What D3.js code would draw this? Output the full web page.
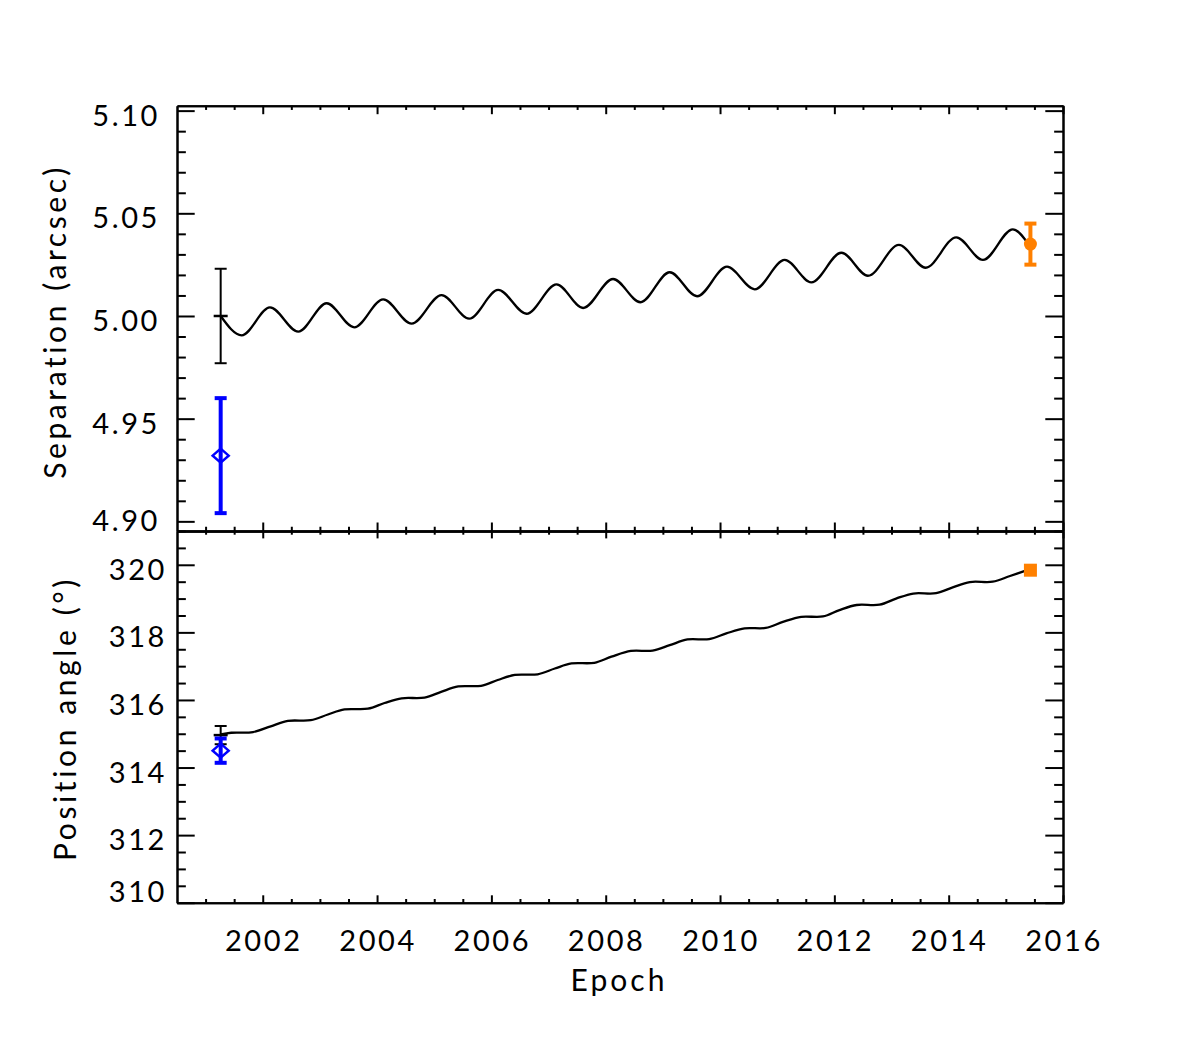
<!DOCTYPE html>
<html>
<head>
<meta charset="utf-8">
<script src="https://cdn.jsdelivr.net/npm/d3@7"></script>
<style>
  body { margin: 0; background: #fff; }
  text { font-family: Lato, "DejaVu Sans", sans-serif; fill: #000; }
</style>
</head>
<body>
<svg id="chart" width="1180" height="1063"></svg>
<script>
(function () {
    "use strict";

    // model curve, separation (arcsec) vs epoch
    var sepEpoch = [2001.264, 2001.631, 2002.126, 2002.621, 2003.118, 2003.600, 2004.107, 2004.604,
        2005.128, 2005.611, 2006.118, 2006.615, 2007.139, 2007.604, 2008.129, 2008.608,
        2009.120, 2009.598, 2010.122, 2010.607, 2011.131, 2011.598, 2012.123, 2012.588,
        2013.130, 2013.597, 2014.133, 2014.599, 2015.123, 2015.386];
    var sepValue = [5.0000, 4.9906, 5.0042, 4.9924, 5.0062, 4.9945, 5.0081, 4.9963,
        5.0102, 4.9987, 5.0127, 5.0011, 5.0154, 5.0039, 5.0180, 5.0067,
        5.0213, 5.0096, 5.0240, 5.0130, 5.0273, 5.0164, 5.0308, 5.0196,
        5.0346, 5.0235, 5.0383, 5.0273, 5.0422, 5.0354];

    // model curve, position angle (deg) vs epoch
    var paEpoch = [2001.264, 2001.45, 2001.83, 2002.14, 2002.44, 2002.84, 2003.14, 2003.43, 2003.84,
        2004.13, 2004.43, 2004.83, 2005.12, 2005.42, 2005.82, 2006.11, 2006.41, 2006.81,
        2007.11, 2007.40, 2007.80, 2008.10, 2008.44, 2008.82, 2009.12, 2009.43, 2009.81,
        2010.11, 2010.43, 2010.80, 2011.10, 2011.42, 2011.80, 2012.09, 2012.39, 2012.79,
        2013.08, 2013.38, 2013.78, 2014.07, 2014.37, 2014.77, 2015.06, 2015.386];
    var paValue = [314.98, 315.03, 315.05, 315.22, 315.38, 315.40, 315.57, 315.72, 315.74,
        315.91, 316.05, 316.07, 316.24, 316.40, 316.42, 316.59, 316.74, 316.76,
        316.93, 317.08, 317.10, 317.28, 317.45, 317.46, 317.62, 317.79, 317.80,
        317.97, 318.12, 318.13, 318.31, 318.46, 318.47, 318.66, 318.81, 318.82,
        319.00, 319.15, 319.16, 319.33, 319.49, 319.50, 319.66, 319.85];

    // measurements: black, blue, orange
    var obsEpoch = [2001.264, 2001.264, 2015.43];
    var obsSep = [5.000, 4.932, 5.035];
    var obsSepErr = [0.023, 0.028, 0.010];
    var obsPA = [314.96, 314.50, 319.84];
    var obsPAErr = [0.27, 0.36, 0];

    // tick labels
    var xTickLabels = ["2002", "2004", "2006", "2008", "2010", "2012", "2014", "2016"];
    var sepTickLabels = ["4.90", "4.95", "5.00", "5.05", "5.10"];
    var paTickLabels = ["310", "312", "314", "316", "318", "320"];

    // styles per measurement (kept apart from the values)
    var obsStyle = [
        { color: "#000", width: 2, marker: "cross" },
        { color: "#0000ff", width: 4, marker: "diamond" },
        { color: "#ff8000", width: 4, marker: "dot" }
    ];

    var L = 177, R = 1063;
    var topY0 = 105.7, midY = 531, botY1 = 902.7;

    var svg = d3.select("#chart");
    svg.append("rect").attr("width", 1180).attr("height", 1063).attr("fill", "#fff");

    var x = d3.scaleLinear().domain([2000.5, 2016]).range([L, R]);
    var ySep = d3.scaleLinear().domain([4.8953, 5.1024]).range([midY, topY0]);
    var yPA = d3.scaleLinear().domain([310, 321]).range([botY1, midY]);

    var xMajor = xTickLabels.map(Number);
    var xMinor = d3.range(2001, 2016, 0.5).filter(function (d) { return d % 2 !== 0; });

    function axisGroup(axis, tx, ty) {
        var g = svg.append("g").attr("transform", "translate(" + tx + "," + ty + ")").call(axis);
        g.selectAll("line").attr("stroke", "#000").attr("stroke-width", 2);
        g.select(".domain").attr("stroke", "#000").attr("stroke-width", 2);
        return g;
    }

    function drawFrame(y, yMajor, yMinor, xLen) {
        var yr = y.range();
        var yLen = 17.7;
        // left / right axes
        axisGroup(d3.axisRight(y).tickValues(yMajor).tickSize(yLen).tickSizeOuter(0).tickFormat(""), L, 0);
        axisGroup(d3.axisRight(y).tickValues(yMinor).tickSize(yLen / 2).tickSizeOuter(0).tickFormat(""), L, 0);
        axisGroup(d3.axisLeft(y).tickValues(yMajor).tickSize(yLen).tickSizeOuter(0).tickFormat(""), R, 0);
        axisGroup(d3.axisLeft(y).tickValues(yMinor).tickSize(yLen / 2).tickSizeOuter(0).tickFormat(""), R, 0);
        // bottom / top axes
        axisGroup(d3.axisTop(x).tickValues(xMajor).tickSize(xLen).tickSizeOuter(0).tickFormat(""), 0, yr[0]);
        axisGroup(d3.axisTop(x).tickValues(xMinor).tickSize(xLen / 2).tickSizeOuter(0).tickFormat(""), 0, yr[0]);
        axisGroup(d3.axisBottom(x).tickValues(xMajor).tickSize(xLen).tickSizeOuter(0).tickFormat(""), 0, yr[1]);
        axisGroup(d3.axisBottom(x).tickValues(xMinor).tickSize(xLen / 2).tickSizeOuter(0).tickFormat(""), 0, yr[1]);
    }

    var sepMajor = sepTickLabels.map(Number);
    var sepMinor = d3.range(4.90, 5.1001, 0.01).filter(function (d) {
        return sepMajor.every(function (m) { return Math.abs(m - d) > 1e-6; });
    });
    var paMajor = paTickLabels.map(Number);
    var paMinor = d3.range(310, 321.01, 0.5).filter(function (d) { return d % 2 !== 0; });

    drawFrame(ySep, sepMajor, sepMinor, 8.5);
    drawFrame(yPA, paMajor, paMinor, 7.4);

    // y tick labels: dropped a bit below tick, kept inside the panel
    function yLabels(y, labels, xEnd) {
        var bottom = y.range()[0];
        svg.append("g").selectAll("text").data(labels).enter().append("text")
            .attr("x", xEnd)
            .attr("y", function (d) { return Math.min(y(+d) + 15, bottom - 0.5); })
            .attr("text-anchor", "end")
            .attr("font-size", 29)
            .attr("letter-spacing", 2.6)
            .text(function (d) { return d; });
    }
    yLabels(ySep, sepTickLabels, 160);
    yLabels(yPA, paTickLabels, 167);

    svg.append("g").selectAll("text").data(xTickLabels).enter().append("text")
        .attr("x", function (d) { return x(+d) + 1; })
        .attr("y", 951)
        .attr("text-anchor", "middle")
        .attr("font-size", 29)
        .attr("letter-spacing", 2.6)
        .text(function (d) { return d; });

    // axis titles
    svg.append("text").attr("x", 619).attr("y", 991).attr("text-anchor", "middle")
        .attr("font-size", 30).attr("letter-spacing", 3).text("Epoch");
    svg.append("text").attr("transform", "translate(66,321.5) rotate(-90)").attr("text-anchor", "middle")
        .attr("font-size", 30).attr("letter-spacing", 3.6).text("Separation (arcsec)");
    svg.append("text").attr("transform", "translate(76,718.5) rotate(-90)").attr("text-anchor", "middle")
        .attr("font-size", 30).attr("letter-spacing", 3.6).text("Position angle (°)");

    // model curves
    var sepLine = d3.line().curve(d3.curveMonotoneX)
        .x(function (d, i) { return x(sepEpoch[i]); })
        .y(function (d) { return ySep(d); });
    svg.append("path").attr("d", sepLine(sepValue))
        .attr("fill", "none").attr("stroke", "#000").attr("stroke-width", 2.3);

    var paLine = d3.line().curve(d3.curveCatmullRom.alpha(0.5))
        .x(function (d, i) { return x(paEpoch[i]); })
        .y(function (d) { return yPA(d); });
    svg.append("path").attr("d", paLine(paValue))
        .attr("fill", "none").attr("stroke", "#000").attr("stroke-width", 2.3);

    // measurements with error bars
    function drawPoints(y, vals, errs, squareDot) {
        obsEpoch.forEach(function (e, i) {
            var st = obsStyle[i];
            var cx = x(e), cy = y(vals[i]);
            var g = svg.append("g").attr("stroke", st.color).attr("fill", "none");
            if (errs[i] > 0) {
                var y1 = y(vals[i] + errs[i]), y2 = y(vals[i] - errs[i]);
                g.append("line").attr("x1", cx).attr("x2", cx).attr("y1", y1).attr("y2", y2)
                    .attr("stroke-width", st.width);
                [y1, y2].forEach(function (yy) {
                    g.append("line").attr("x1", cx - 6).attr("x2", cx + 6).attr("y1", yy).attr("y2", yy)
                        .attr("stroke-width", st.width);
                });
            }
            if (st.marker === "cross") {
                g.append("line").attr("x1", cx - 7).attr("x2", cx + 7).attr("y1", cy).attr("y2", cy)
                    .attr("stroke-width", 2.5);
            } else if (st.marker === "diamond") {
                g.append("path")
                    .attr("d", "M" + (cx - 8) + "," + cy + "L" + cx + "," + (cy - 7) + "L" + (cx + 8) + "," + cy + "L" + cx + "," + (cy + 7) + "Z")
                    .attr("stroke-width", 2.5);
            } else if (squareDot) {
                g.append("rect").attr("x", cx - 6.5).attr("y", cy - 6.5).attr("width", 13).attr("height", 13)
                    .attr("fill", st.color).attr("stroke", "none");
            } else {
                g.append("circle").attr("cx", cx).attr("cy", cy).attr("r", 6.5)
                    .attr("fill", st.color).attr("stroke", "none");
            }
        });
    }
    drawPoints(ySep, obsSep, obsSepErr, false);
    drawPoints(yPA, obsPA, obsPAErr, true);
})();
</script>
</body>
</html>
